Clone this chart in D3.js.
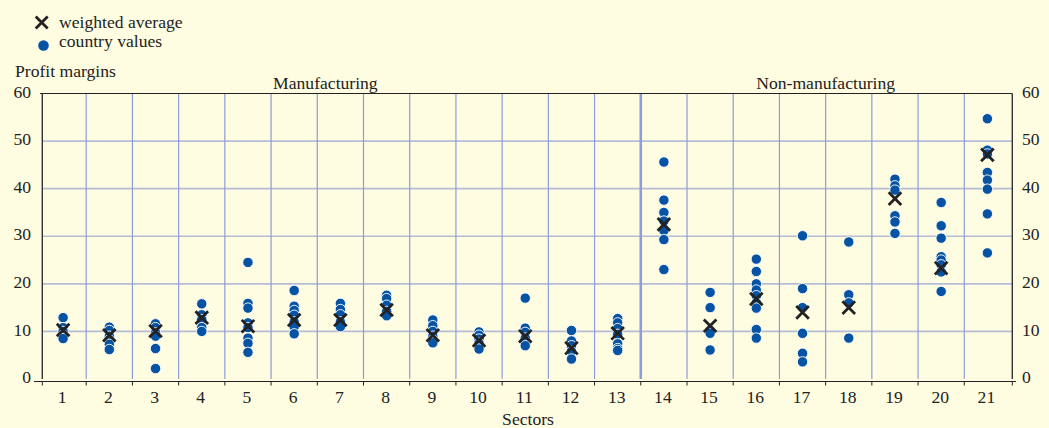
<!DOCTYPE html>
<html>
<head>
<meta charset="utf-8">
<script src="https://cdn.jsdelivr.net/npm/d3@7"></script>
<style>
  body { margin: 0; background: #fffde1; }
  svg { display: block; font-family: "Liberation Serif", "Times New Roman", serif; }
  .lbl { font-size: 17.6px; fill: #222; }
  .tick text { font-size: 17.6px; fill: #222; font-family: "Liberation Serif", serif; }
</style>
</head>
<body>
<svg id="chart" width="1049" height="428"></svg>
<script>
var sectors = d3.range(1, 22)
,   yTicks = [0, 10, 20, 30, 40, 50, 60]

// weighted average per sector
var averages = [10.3, 9.2, 10.1, 12.9, 11.1, 12.4, 12.4, 14.5, 9.2, 8.1, 9.0, 6.5, 9.6,
                32.5, 11.2, 16.8, 14.0, 15.0, 37.9, 23.3, 47.1]

// country values per sector
var countryValues = [
  [12.9, 10.8, 10.0, 9.2, 8.5],
  [10.9, 10.2, 9.0, 8.2, 7.3, 6.2],
  [11.6, 10.8, 9.7, 9.0, 6.4, 2.2],
  [15.8, 13.5, 12.5, 10.8, 10.0],
  [24.5, 15.9, 14.9, 11.8, 10.8, 8.6, 7.5, 5.6],
  [18.6, 15.3, 14.4, 13.4, 12.0, 11.0, 9.5],
  [15.9, 14.6, 13.5, 12.0, 11.0],
  [17.6, 16.9, 15.5, 14.2, 13.3],
  [12.4, 11.2, 10.0, 9.0, 8.2, 7.6],
  [9.9, 9.2, 8.4, 7.5, 6.3],
  [17.0, 10.7, 9.8, 8.6, 7.8, 7.0],
  [10.2, 8.0, 7.0, 5.8, 4.2],
  [12.7, 11.8, 10.6, 9.4, 7.4, 6.4, 6.0],
  [45.6, 37.6, 35.0, 33.2, 31.2, 29.3, 23.0],
  [18.2, 15.0, 10.2, 9.6, 6.1],
  [25.2, 22.6, 20.0, 18.7, 17.5, 16.0, 14.9, 10.4, 8.6],
  [30.1, 19.0, 15.0, 9.6, 5.4, 3.6],
  [28.8, 17.7, 16.0, 8.6],
  [42.0, 40.6, 39.7, 34.3, 33.0, 30.6],
  [37.1, 32.2, 29.6, 25.7, 25.0, 24.0, 22.5, 18.4],
  [54.7, 48.1, 47.3, 43.4, 41.8, 39.9, 34.7, 26.5]
]

var groups = [
  {name: 'Manufacturing', from: 1, to: 13},
  {name: 'Non-manufacturing', from: 14, to: 21}
]

var DOT_COLOR = '#0653a3'
,   MARK_COLOR = '#222'
,   VGRID = '#8e9cd9'
,   HGRID = '#b5bcd8'

var svg = d3.select('#chart')
,   plotLeft = 42.3
,   plotRight = 1012.3
,   plotTop = 93.5
,   plotBottom = 379

var x = d3.scaleBand().domain(sectors).range([40, 1010.5])
,   y = d3.scaleLinear().domain([0, 60]).range([plotBottom, plotTop])
,   cx = (s) => x(s) + x.bandwidth() / 2

function cross(g, px, py, r) {
  g.append('path')
    .attr('d', 'M' + (px - r) + ',' + (py - r) + 'L' + (px + r) + ',' + (py + r) +
               'M' + (px - r) + ',' + (py + r) + 'L' + (px + r) + ',' + (py - r))
    .attr('stroke', MARK_COLOR)
    .attr('stroke-width', 2.8)
    .attr('fill', 'none')
}

// horizontal grid
svg.append('g').selectAll('line')
  .data(yTicks.filter((t) => t > 0 && t < 60))
  .enter().append('line')
  .attr('x1', plotLeft).attr('x2', plotRight)
  .attr('y1', (d) => y(d)).attr('y2', (d) => y(d))
  .attr('stroke', HGRID).attr('stroke-width', 1.6)

// vertical grid at sector boundaries
svg.append('g').selectAll('line')
  .data(sectors.slice(1))
  .enter().append('line')
  .attr('x1', (d) => x(d)).attr('x2', (d) => x(d))
  .attr('y1', plotTop).attr('y2', plotBottom)
  .attr('stroke', VGRID)
  .attr('stroke-width', (d) => d === 14 ? 2.6 : 1.2)

// frame
svg.append('line').attr('x1', 40).attr('x2', plotRight).attr('y1', plotTop).attr('y2', plotTop)
  .attr('stroke', '#222').attr('stroke-width', 1.2)
svg.append('line').attr('x1', plotLeft).attr('x2', plotLeft).attr('y1', plotTop).attr('y2', plotBottom)
  .attr('stroke', '#333').attr('stroke-width', 1.4)
svg.append('line').attr('x1', plotRight).attr('x2', plotRight).attr('y1', plotTop).attr('y2', plotBottom)
  .attr('stroke', '#333').attr('stroke-width', 1.4)

// bottom axis with boundary ticks
var axisY = 381.5
svg.append('line').attr('x1', 34).attr('x2', 1016).attr('y1', axisY).attr('y2', axisY)
  .attr('stroke', '#222').attr('stroke-width', 1.2)
svg.append('g').selectAll('line')
  .data(sectors.concat([22]))
  .enter().append('line')
  .attr('x1', (d) => d === 22 ? plotRight : d === 1 ? plotLeft : x(d))
  .attr('x2', (d) => d === 22 ? plotRight : d === 1 ? plotLeft : x(d))
  .attr('y1', axisY).attr('y2', axisY + 4)
  .attr('stroke', '#222').attr('stroke-width', 1)

var xAxis = svg.append('g')
  .attr('transform', 'translate(-1,' + (axisY + 4) + ')')
  .call(d3.axisBottom(x).tickSize(0).tickPadding(5))
xAxis.select('.domain').remove()

// y axes labels
var yl = svg.append('g').attr('transform', 'translate(31,-2)')
  .call(d3.axisLeft(y).tickValues(yTicks).tickSize(0).tickPadding(0))
yl.select('.domain').remove()
var yr = svg.append('g').attr('transform', 'translate(1022,-2)')
  .call(d3.axisRight(y).tickValues(yTicks).tickSize(0).tickPadding(0))
yr.select('.domain').remove()

// country values
var dots = svg.append('g')
countryValues.forEach(function(vals, i) {
  dots.selectAll('.s' + i)
    .data(vals)
    .enter().append('circle')
    .attr('class', 's' + i)
    .attr('cx', cx(sectors[i]))
    .attr('cy', (d) => y(d))
    .attr('r', 5.2)
    .attr('fill', DOT_COLOR)
    .attr('stroke', '#fff')
    .attr('stroke-width', 0.9)
})

// weighted averages
var marks = svg.append('g')
averages.forEach(function(v, i) {
  cross(marks, cx(sectors[i]), y(v), 6.3)
})

// group labels
svg.selectAll('.grp')
  .data(groups)
  .enter().append('text')
  .attr('class', 'lbl grp')
  .attr('x', (d) => (x(d.from) + x(d.to) + x.bandwidth()) / 2 + (d.from === 1 ? -15 : 0))
  .attr('y', 89)
  .attr('text-anchor', 'middle')
  .text((d) => d.name)

svg.append('text').attr('class', 'lbl').attr('x', 15).attr('y', 77).text('Profit margins')
svg.append('text').attr('class', 'lbl').attr('x', 528).attr('y', 425)
  .attr('text-anchor', 'middle').text('Sectors')

// legend
cross(svg, 41.7, 22.5, 6)
svg.append('text').attr('class', 'lbl').attr('x', 59).attr('y', 28).text('weighted average')
svg.append('circle').attr('cx', 43.5).attr('cy', 45.5).attr('r', 5.3)
  .attr('fill', DOT_COLOR)
svg.append('text').attr('class', 'lbl').attr('x', 59).attr('y', 47).text('country values')
</script>
</body>
</html>
